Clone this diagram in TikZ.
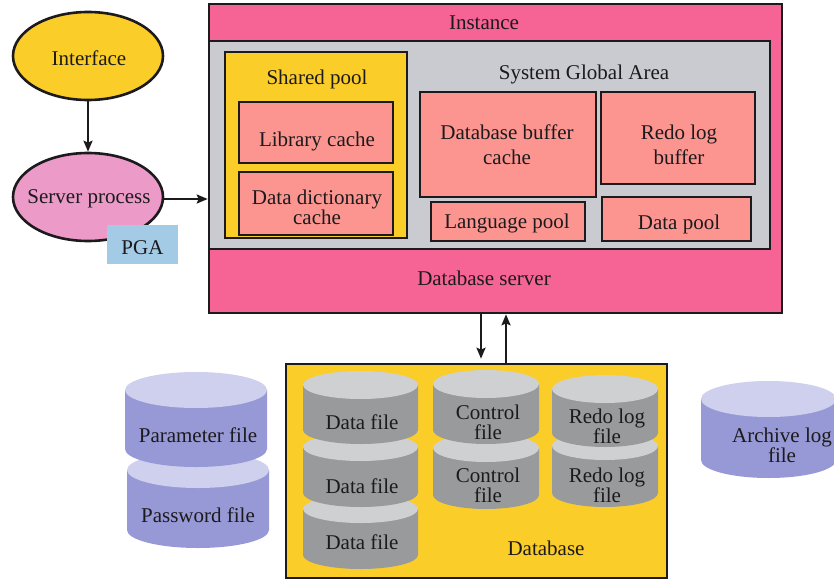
\documentclass[tikz,border=0pt]{standalone}
\usepackage{fontspec}
\setmainfont{Liberation Serif}
\usetikzlibrary{shapes.geometric,arrows.meta}
\definecolor{cpink}{HTML}{F66496}
\definecolor{cgray}{HTML}{C9CBD0}
\definecolor{cyell}{HTML}{FBCD28}
\definecolor{csalm}{HTML}{FC9590}
\definecolor{cmauve}{HTML}{EC9AC8}
\definecolor{cpga}{HTML}{A4CBE6}
\definecolor{cline}{HTML}{1C1A1C}
\definecolor{cgside}{HTML}{989A9C}
\definecolor{cgtop}{HTML}{CFD0D2}
\definecolor{cvside}{HTML}{9799D6}
\definecolor{cvtop}{HTML}{CFCFEE}
\tikzset{
  x=1pt,y=-1pt,
  txt/.style={font=\fontsize{21}{20}\selectfont,text=cline,align=center,inner sep=0pt},
  loose/.style={font=\fontsize{21}{25}\selectfont},
  box/.style={rectangle,draw=cline,line width=2.6pt,inner sep=0pt},
  oval/.style={ellipse,draw=cline,line width=2.6pt,inner sep=0pt},
  conn/.style={draw=cline,line width=2.6pt,-{Stealth[length=11pt,width=9pt,inset=2pt]}},
}
% x1 x2 ytop(top of top ellipse) ybot(bottom of body) ry side top
\newcommand{\cyl}[7]{%
  \fill[#6] (#1,#3+#5) -- (#1,#4-#5) arc[start angle=180,end angle=0,x radius={(#2-#1)/2},y radius=#5]
     -- (#2,#3+#5) -- cycle;
  \fill[#7] ({(#1+#2)/2},#3+#5) ellipse[x radius={(#2-#1)/2},y radius=#5];
}
\begin{document}
\begin{tikzpicture}
\useasboundingbox (0,0) rectangle (834,580);
\fill[white] (0,0) rectangle (834,580);

% Ovals
\node[oval,fill=cyell,minimum width=150pt,minimum height=88pt] (iface) at (88,56) {};
\node[txt] (ifacelbl) at (89,58) {Interface};
\node[oval,fill=cmauve,minimum width=150pt,minimum height=88pt] (server) at (88,197) {};
\node[txt] (serverlbl) at (89,199) {Server process};
\node[rectangle,fill=cpga,minimum width=71pt,minimum height=39pt,inner sep=0pt] (pga) at (142.5,244.5) {};
\node[txt] (pgalbl) at (142.5,248) {PGA};

% Instance
\node[box,fill=cpink,minimum width=573pt,minimum height=309pt] (outer) at (495.5,158.5) {};
\node[txt] (instlbl) at (484,23) {Instance};
\node[box,fill=cgray,minimum width=561pt,minimum height=208pt] (sga) at (489.5,145) {};
\node[txt] (serverdb) at (484,278) {Database server};
\node[txt] (sgalbl) at (584,74) {System Global Area};
\node[box,fill=cyell,minimum width=182pt,minimum height=186pt] (shared) at (316,145) {};
\node[txt] (sharedlbl) at (317,79) {Shared pool};
\node[box,fill=csalm,minimum width=154pt,minimum height=61pt] (lib) at (316,132.5) {};
\node[txt] (liblbl) at (317,141) {Library cache};
\node[box,fill=csalm,minimum width=154pt,minimum height=63pt] (dict) at (316,203.5) {};
\node[txt] (dictlbl) at (317,207) {Data dictionary\\cache};
\node[box,fill=csalm,minimum width=176pt,minimum height=105pt] (dbbuf) at (508,144.5) {};
\node[txt,loose] (dbbuflbl) at (507,145) {Database buffer\\cache};
\node[box,fill=csalm,minimum width=154pt,minimum height=92pt] (redobuf) at (678,138) {};
\node[txt,loose] (redobuflbl) at (679,145) {Redo log\\buffer};
\node[box,fill=csalm,minimum width=154pt,minimum height=39pt] (lang) at (508,221.5) {};
\node[txt] (langlbl) at (507,223) {Language pool};
\node[box,fill=csalm,minimum width=149pt,minimum height=44pt] (dpool) at (676.5,219) {};
\node[txt] (dpoollbl) at (679,224) {Data pool};

% Database box
\node[box,fill=cyell,minimum width=381pt,minimum height=214pt] (db) at (476.5,471) {};
\node[txt] (dblbl) at (546,548) {Database};

% Violet cylinders
\cyl{127}{269}{452}{548}{18}{cvside}{cvtop}
\cyl{125}{267}{372}{467}{18}{cvside}{cvtop}
\cyl{701}{836}{381}{478}{18}{cvside}{cvtop}
\node[txt] (param) at (198,435) {Parameter file};
\node[txt] (passw) at (198,515) {Password file};
\node[txt] (arch) at (782,445) {Archive log\\file};

% Gray cylinders in database
\cyl{303}{418}{495}{569}{14}{cgside}{cgtop}
\cyl{303}{418}{433}{507}{14}{cgside}{cgtop}
\cyl{303}{418}{371}{444}{14}{cgside}{cgtop}
\cyl{433}{539}{434}{509}{14}{cgside}{cgtop}
\cyl{433}{539}{370}{444}{14}{cgside}{cgtop}
\cyl{552}{658}{432}{507}{14}{cgside}{cgtop}
\cyl{552}{658}{375}{447}{14}{cgside}{cgtop}
\node[txt] (df1) at (362,422) {Data file};
\node[txt] (df2) at (362,486) {Data file};
\node[txt] (df3) at (362,542) {Data file};
\node[txt] (cf1) at (488,422) {Control\\file};
\node[txt] (cf2) at (488,485) {Control\\file};
\node[txt] (rl1) at (607,426) {Redo log\\file};
\node[txt] (rl2) at (607,485) {Redo log\\file};

% Connectors
\draw[conn] (iface.south) -- (server.north);
\draw[conn] (server.east |- 0,199) -- (sga.west |- 0,199);
\coordinate (dn) at (481,340);
\coordinate (up) at (506,340);
\draw[conn,shorten >=4pt] (dn |- outer.south) -- (dn |- db.north);
\draw[conn] (up |- db.north) -- (up |- outer.south);
\end{tikzpicture}
\end{document}
